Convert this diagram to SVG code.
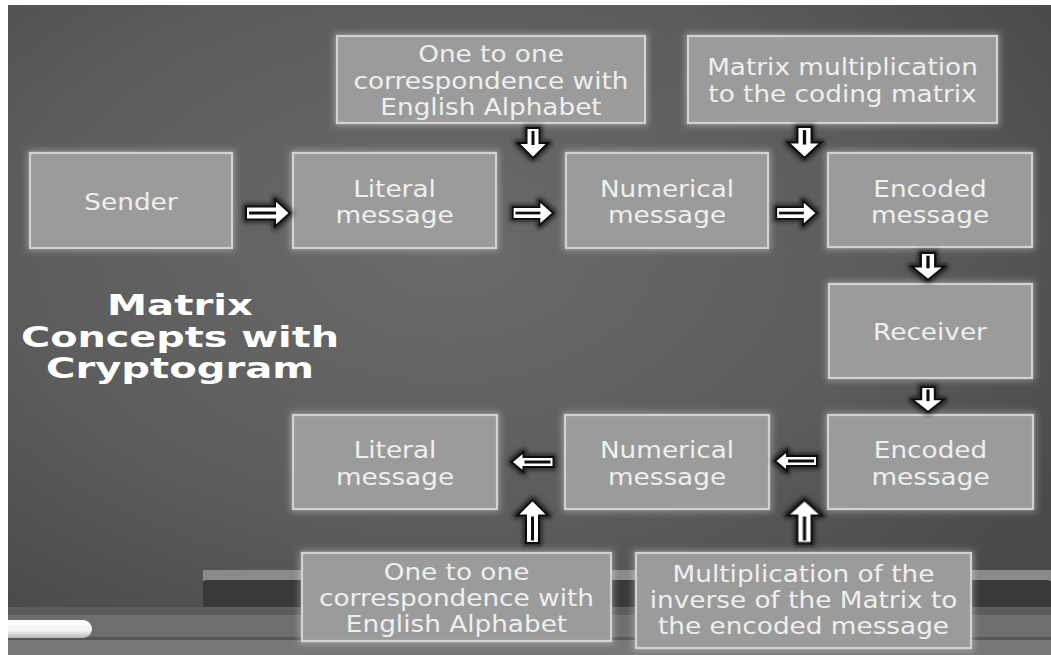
<svg xmlns="http://www.w3.org/2000/svg" width="1051" height="655" viewBox="0 0 1051 655">
<defs>
<radialGradient id="bg" cx="0.42" cy="0.38" r="0.7">
<stop offset="0" stop-color="#6a6a6a"/>
<stop offset="0.6" stop-color="#5c5c5c"/>
<stop offset="1" stop-color="#4a4a4a"/>
</radialGradient>
<linearGradient id="chalk" x1="0" y1="0" x2="0" y2="1">
<stop offset="0" stop-color="#ffffff"/>
<stop offset="0.6" stop-color="#f2f2f2"/>
<stop offset="1" stop-color="#b8b8b8"/>
</linearGradient>
<filter id="glow" x="-10%" y="-15%" width="120%" height="130%">
<feMorphology in="SourceAlpha" operator="dilate" radius="2" result="d"/>
<feGaussianBlur in="d" stdDeviation="3" result="b"/>
<feFlood flood-color="#ffffff" flood-opacity="0.3"/>
<feComposite in2="b" operator="in" result="g"/>
<feMerge><feMergeNode in="g"/><feMergeNode in="SourceGraphic"/></feMerge>
</filter>
<filter id="shadow" x="-30%" y="-30%" width="160%" height="160%">
<feMorphology in="SourceAlpha" operator="dilate" radius="1.5" result="d"/>
<feGaussianBlur in="d" stdDeviation="2" result="b"/>
<feFlood flood-color="#000000" flood-opacity="0.6"/>
<feComposite in2="b" operator="in" result="g"/>
<feMerge><feMergeNode in="g"/><feMergeNode in="SourceGraphic"/></feMerge>
</filter>
<g id="ar">
<path class="ap" d="M-22,-6.5 H7 V-13.5 L22,0 L7,13.5 V6.5 H-22 Z"/>
<path class="core" d="M-19,0 H8"/>
</g>
<g id="al">
<path class="ap" d="M21,-5 H-9 V-10 L-21,0 L-9,10 V5 H21 Z"/>
<path class="core" d="M18,0 H-8"/>
</g>
<g id="ad">
<path class="ap" d="M-6.5,-15 H6.5 V0 H15 L0,15 L-15,0 H-6.5 Z"/>
<path class="core" d="M0,-12 V2"/>
</g>
<g id="au">
<path class="ap" d="M-6.5,21.5 H6.5 V-6 H15.5 L0,-21.5 L-15.5,-6 H-6.5 Z"/>
<path class="core" d="M0,19 V-5"/>
</g>
</defs>
<style>
.box{fill:#9b9b9b;stroke:#d2d2d2;stroke-width:2.2;filter:url(#glow)}
.t{font-family:"DejaVu Sans",Verdana,sans-serif;font-size:22.5px;fill:#efefef;text-anchor:middle}
.title{font-family:"DejaVu Sans",Verdana,sans-serif;font-weight:bold;font-size:29px;fill:#ffffff;text-anchor:middle}
.ap{fill:#ffffff;stroke:#111111;stroke-width:2;stroke-linejoin:miter}
.core{fill:none;stroke:#111111;stroke-width:3}
</style>

<!-- background -->
<rect x="0" y="0" width="1051" height="655" fill="#ffffff"/>
<rect x="8" y="5" width="1043" height="650" fill="url(#bg)"/>
<!-- chalk tray -->
<rect x="203" y="570" width="848" height="11" fill="#8a8a8a"/>
<rect x="203" y="580" width="848" height="33" rx="4" fill="#393939"/>
<rect x="8" y="607" width="1043" height="8" fill="#5c5c5c"/>
<rect x="8" y="615" width="1043" height="22" fill="#6e6e6e"/>
<rect x="8" y="637" width="1043" height="3" fill="#575757"/>
<rect x="8" y="640" width="1043" height="15" fill="#777777"/>
<path d="M8,620 H83 A9,9 0 0 1 83,638 H8 Z" fill="url(#chalk)"/>

<!-- title -->
<g id="title">
<text class="title" x="180" y="315" textLength="146" lengthAdjust="spacingAndGlyphs">Matrix</text>
<text class="title" x="180" y="347" textLength="318" lengthAdjust="spacingAndGlyphs">Concepts with</text>
<text class="title" x="180" y="378" textLength="268" lengthAdjust="spacingAndGlyphs">Cryptogram</text>
</g>

<g id="sender">
<rect class="box" x="30" y="153" width="202" height="95"/>
<g transform="translate(131,0) scale(1.17,1)"><text class="t" x="0" y="210">Sender</text></g>
</g>
<g id="literal1">
<rect class="box" x="293" y="153" width="203" height="95"/>
<g transform="translate(394.5,0) scale(1.17,1)"><text class="t" x="0" y="197">Literal</text><text class="t" x="0" y="223">message</text></g>
</g>
<g id="numerical1">
<rect class="box" x="566" y="153" width="202" height="95"/>
<g transform="translate(667,0) scale(1.17,1)"><text class="t" x="0" y="197">Numerical</text><text class="t" x="0" y="223">message</text></g>
</g>
<g id="encoded1">
<rect class="box" x="828" y="153" width="204" height="94"/>
<g transform="translate(930,0) scale(1.17,1)"><text class="t" x="0" y="197">Encoded</text><text class="t" x="0" y="223">message</text></g>
</g>
<g id="receiver">
<rect class="box" x="829" y="284" width="203" height="94"/>
<g transform="translate(930,0) scale(1.17,1)"><text class="t" x="0" y="340">Receiver</text></g>
</g>
<g id="encoded2">
<rect class="box" x="828" y="415" width="205" height="94"/>
<g transform="translate(930.5,0) scale(1.17,1)"><text class="t" x="0" y="458">Encoded</text><text class="t" x="0" y="485">message</text></g>
</g>
<g id="numerical2">
<rect class="box" x="565" y="415" width="204" height="94"/>
<g transform="translate(667,0) scale(1.17,1)"><text class="t" x="0" y="458">Numerical</text><text class="t" x="0" y="485">message</text></g>
</g>
<g id="literal2">
<rect class="box" x="293" y="415" width="204" height="94"/>
<g transform="translate(395,0) scale(1.17,1)"><text class="t" x="0" y="458">Literal</text><text class="t" x="0" y="485">message</text></g>
</g>
<g id="correspondence1">
<rect class="box" x="337" y="36" width="308" height="87"/>
<g transform="translate(491,0) scale(1.17,1)"><text class="t" x="0" y="62">One to one</text><text class="t" x="0" y="89">correspondence with</text><text class="t" x="0" y="115">English Alphabet</text></g>
</g>
<g id="multiplication">
<rect class="box" x="688" y="36" width="309" height="87"/>
<g transform="translate(842.5,0) scale(1.17,1)"><text class="t" x="0" y="75">Matrix multiplication</text><text class="t" x="0" y="102">to the coding matrix</text></g>
</g>
<g id="correspondence2">
<rect class="box" x="302" y="553" width="309" height="88"/>
<g transform="translate(456.5,0) scale(1.17,1)"><text class="t" x="0" y="580">One to one</text><text class="t" x="0" y="606">correspondence with</text><text class="t" x="0" y="632">English Alphabet</text></g>
</g>
<g id="inverse">
<rect class="box" x="636" y="553" width="335" height="95"/>
<g transform="translate(803.5,0) scale(1.17,1)"><text class="t" x="0" y="582">Multiplication of the</text><text class="t" x="0" y="608">inverse of the Matrix to</text><text class="t" x="0" y="634">the encoded message</text></g>
</g>

<g id="connectors" filter="url(#shadow)">
<use href="#ar" transform="translate(268,213)"/>
<use href="#ar" transform="translate(533,213) scale(0.92,0.9)"/>
<use href="#ar" transform="translate(796.5,213) scale(0.92,0.9)"/>
<use href="#ad" transform="translate(533,143)"/>
<use href="#ad" transform="translate(804.5,142.5) scale(1.1,1.03)"/>
<use href="#ad" transform="translate(928,266.5) scale(1.1,0.9)"/>
<use href="#ad" transform="translate(928,399.5) scale(1.05,0.83)"/>
<use href="#al" transform="translate(796,461)"/>
<use href="#al" transform="translate(532.5,462)"/>
<use href="#au" transform="translate(532.5,521.5)"/>
<use href="#au" transform="translate(804.5,521.5) scale(1.1,1)"/>
</g>
</svg>
